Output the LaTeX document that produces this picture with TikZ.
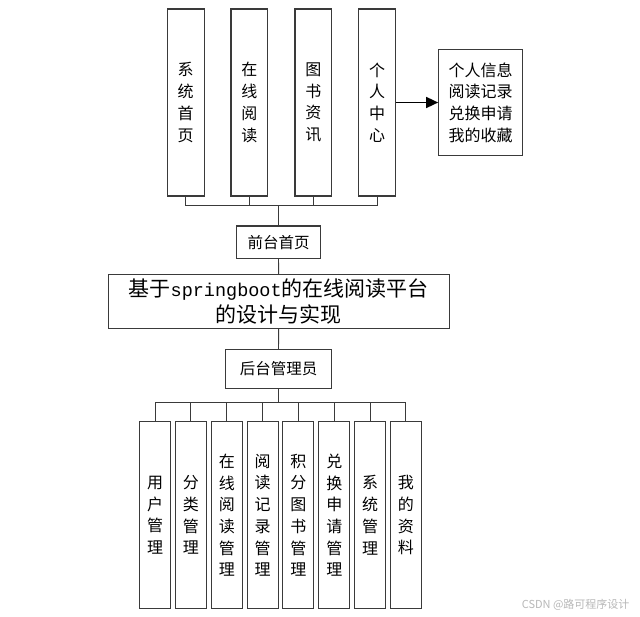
\documentclass[tikz,border=0pt]{standalone}
\usepackage{fontspec}
\setmainfont{Noto Sans CJK SC}
\newfontfamily\latmono{Liberation Mono}
\usetikzlibrary{arrows.meta}
\definecolor{edge}{HTML}{3A3A3A}
\definecolor{wm}{HTML}{B8B8B8}
\begin{document}
\begin{tikzpicture}[x=1pt,y=-1pt,
  box/.style={draw=edge,line width=1.1pt,fill=white,inner sep=0pt,align=center,text=black},
  tall/.style={box,minimum width=36.7pt,minimum height=187pt,font=\fontsize{16}{21.7}\selectfont},
  low/.style={box,minimum width=31pt,minimum height=187pt,font=\fontsize{16}{21.7}\selectfont},
  link/.style={draw=edge,line width=0.9pt}]
\useasboundingbox (0,0) rectangle (640,616);
\fill[white] (0,0) rectangle (640,616);

% top row
\node[tall] (t1) at (185.7,102.5) {系\\统\\首\\页};
\node[tall] (t2) at (249.3,102.5) {在\\线\\阅\\读};
\node[tall] (t3) at (313.3,102.5) {图\\书\\资\\讯};
\node[tall] (t4) at (377,102.5) {个\\人\\中\\心};
\node[box,minimum width=84pt,minimum height=106.4pt,font=\fontsize{16}{21.7}\selectfont] (info) at (480.7,102.5) {个人信息\\阅读记录\\兑换申请\\我的收藏};

\node[box,minimum width=84pt,minimum height=32.7pt,font=\fontsize{15.5}{18}\selectfont] (front) at (278.5,242.3) {前台首页};
\node[box,minimum width=340.7pt,minimum height=53.6pt,font=\fontsize{21}{25.3}\selectfont] (main) at (278.7,301.5) {基于{\latmono\fontsize{18.5}{25.3}\selectfont springboot}的在线阅读平台\\的设计与实现};
\node[box,minimum width=105.3pt,minimum height=39pt,font=\fontsize{15.5}{18}\selectfont] (admin) at (278.5,368.8) {后台管理员};

% bottom row
\node[low] (b1) at (155,515.2) {用\\户\\管\\理};
\node[low] (b2) at (190.8,515.2) {分\\类\\管\\理};
\node[low] (b3) at (226.8,515.2) {在\\线\\阅\\读\\管\\理};
\node[low] (b4) at (262.7,515.2) {阅\\读\\记\\录\\管\\理};
\node[low] (b5) at (298.4,515.2) {积\\分\\图\\书\\管\\理};
\node[low] (b6) at (334.3,515.2) {兑\\换\\申\\请\\管\\理};
\node[low] (b7) at (370.2,515.2) {系\\统\\管\\理};
\node[low] (b8) at (405.8,515.2) {我\\的\\资\\料};

% connectors
\coordinate (tb) at (278.5,205.7);
\foreach \n in {t1,t2,t3,t4} \draw[link] (\n.south) |- (tb);
\draw[link] (tb) -- (front.north);
\draw[link] (front.south) -- (main.north);
\draw[link] (main.south) -- (admin.north);
\coordinate (bb) at (278.5,402.7);
\draw[link] (admin.south) -- (bb);
\foreach \n in {b1,b2,b3,b4,b5,b6,b7,b8} \draw[link] (bb) -| (\n.north);
\draw[draw=black,line width=1.6pt,-{Triangle[length=12pt,width=11pt]}] (t4.east) -- (info.west);

\node[text=wm,font=\fontsize{11}{13}\selectfont,anchor=east] (mark) at (633,605) {CSDN @路可程序设计};
\end{tikzpicture}
\end{document}
